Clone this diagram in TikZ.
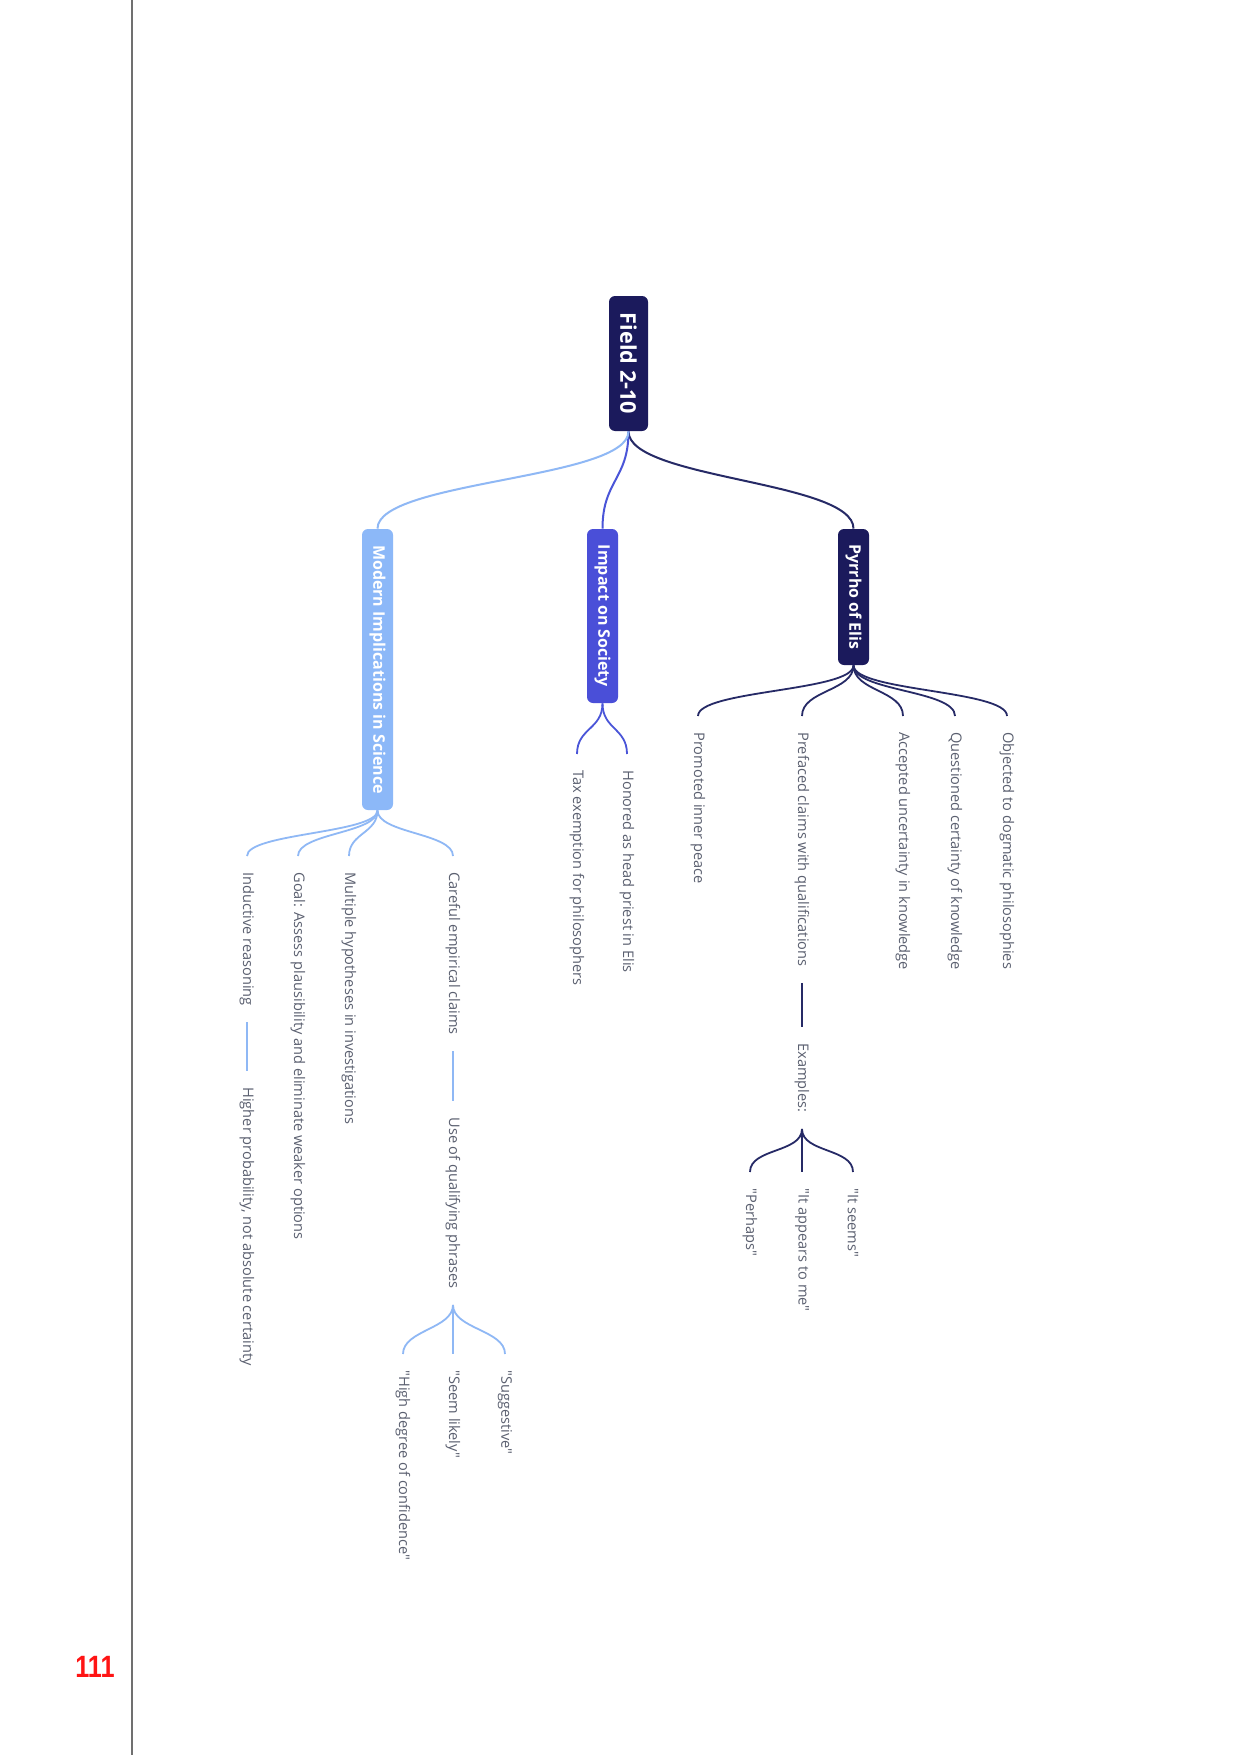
\documentclass[tikz,border=0pt]{standalone}
\usepackage{fontspec}
\setmainfont{Open Sans}[Ligatures=TeXOff]
\newfontfamily\numfont{Liberation Sans}
\usepackage{graphicx}
\definecolor{navy}{HTML}{1B1A5C}
\definecolor{royal}{HTML}{4A4FD8}
\definecolor{lightb}{HTML}{8CB8F8}
\definecolor{navyl}{HTML}{262A66}
\definecolor{royall}{HTML}{4A55D8}
\definecolor{lightl}{HTML}{8FB8F5}
\definecolor{leafc}{HTML}{5B6070}
\definecolor{pagered}{HTML}{FF1414}
\definecolor{rule}{HTML}{707070}
\begin{document}
\begin{tikzpicture}[x=0.5pt,y=-0.5pt,
  rootbox/.style={rotate=-90, rounded corners=3pt, fill=navy, text=white,
    font=\bfseries\fontsize{10.8}{12}\selectfont, inner sep=0pt,
    minimum height=19.5pt, minimum width=67.5pt},
  topicbox/.style={rotate=-90, rounded corners=3pt, text=white,
    font=\bfseries\fontsize{8}{9}\selectfont, inner sep=0pt,
    minimum height=15.5pt},
  leaf/.style={rotate=-90, anchor=west, inner xsep=8pt, inner ysep=0pt,
    text=leafc, font=\fontsize{7.3}{9}\selectfont},
  conn/.style={line width=0.9pt},
  bigconn/.style={line width=1pt}
]
\useasboundingbox (0,0) rectangle (1241,1755);
\fill[white] (0,0) rectangle (1241,1755);

% page rule and page number
\draw[rule, line width=0.75pt] (132,0) -- (132,1755);
\node[text=pagered, font=\numfont\bfseries\fontsize{15.4}{16}\selectfont, inner sep=0pt] (pgnum) at (95,1667) {\scalebox{0.82}[1]{111}};

% root
\node[rootbox] (root) at (628.5,363.5) {Field 2-10};

% main topics
\node[topicbox, fill=navy, minimum width=68pt] (pyr) at (853.5,597) {Pyrrho of Elis};
\node[topicbox, fill=royal, minimum width=87pt] (imp) at (602.5,616) {Impact on Society};
\node[topicbox, fill=lightb, minimum width=140.5pt] (mod) at (377.5,669.5) {Modern Implications in Science};

% Pyrrho leaves
\node[leaf] (obj) at (1007,716) {Objected to dogmatic philosophies};
\node[leaf] (que) at (955,716) {Questioned certainty of knowledge};
\node[leaf] (acc) at (903,716) {Accepted uncertainty in knowledge};
\node[leaf] (pre) at (802,716) {Prefaced claims with qualifications};
\node[leaf] (pro) at (698,716) {Promoted inner peace};
\node[leaf] (ex) at (802,1027) {Examples:};
\node[leaf] (seems) at (853,1172) {"It seems"};
\node[leaf] (appears) at (802,1172) {"It appears to me"};
\node[leaf] (perhaps) at (750,1172) {"Perhaps"};

% Impact leaves
\node[leaf] (hon) at (627,754) {Honored as head priest in Elis};
\node[leaf] (tax) at (577,754) {Tax exemption for philosophers};

% Modern leaves
\node[leaf] (car) at (453,856) {Careful empirical claims};
\node[leaf] (mul) at (349,856) {Multiple hypotheses in investigations};
\node[leaf] (goal) at (298,856) {Goal: Assess plausibility and eliminate weaker options};
\node[leaf] (ind) at (247,856) {Inductive reasoning};
\node[leaf] (use) at (453,1101) {Use of qualifying phrases};
\node[leaf] (high) at (247,1071) {Higher probability, not absolute certainty};
\node[leaf] (sug) at (505,1354) {"Suggestive"};
\node[leaf] (likely) at (453,1354) {"Seem likely"};
\node[leaf] (conf) at (403,1354) {"High degree of confidence"};

% root connectors
\draw[bigconn, navyl] (root.east) .. controls +(0,48) and +(0,-48) .. (pyr.west);
\draw[bigconn, royall] (root.east) .. controls +(0,48) and +(0,-48) .. (imp.west);
\draw[bigconn, lightl] (root.east) .. controls +(0,48) and +(0,-48) .. (mod.west);

% Pyrrho connectors
\foreach \c in {obj,que,acc,pre,pro}
  \draw[conn, navyl] (pyr.east) .. controls +(0,26) and +(0,-26) .. (\c.west);
\draw[conn, navyl] (pre.east) -- (ex.west);
\foreach \c in {seems,appears,perhaps}
  \draw[conn, navyl] (ex.east) .. controls +(0,24) and +(0,-24) .. (\c.west);

% Impact connectors
\foreach \c in {hon,tax}
  \draw[conn, royall] (imp.east) .. controls +(0,26) and +(0,-26) .. (\c.west);

% Modern connectors
\foreach \c in {car,mul,goal,ind}
  \draw[conn, lightl] (mod.east) .. controls +(0,23) and +(0,-23) .. (\c.west);
\draw[conn, lightl] (car.east) -- (use.west);
\draw[conn, lightl] (ind.east) -- (high.west);
\foreach \c in {sug,likely,conf}
  \draw[conn, lightl] (use.east) .. controls +(0,24) and +(0,-24) .. (\c.west);
\end{tikzpicture}
\end{document}
